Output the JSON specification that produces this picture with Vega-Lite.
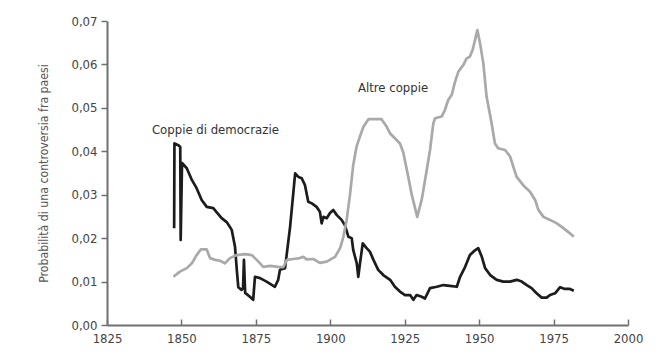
{
  "$schema": "https://vega.github.io/schema/vega-lite/v6.json",
  "width": 521,
  "height": 304,
  "autosize": {"type": "none"},
  "padding": {"left": 107, "top": 21, "right": 34, "bottom": 35},
  "background": "white",
  "config": {
    "view": {"stroke": null},
    "font": "DejaVu Sans Condensed",
    "axis": {
      "grid": false,
      "domainColor": "#707070",
      "domainWidth": 2,
      "tickColor": "#707070",
      "tickWidth": 1.5,
      "labelFont": "DejaVu Sans Condensed",
      "labelFontSize": 13,
      "labelColor": "#444444",
      "titleFont": "DejaVu Sans Condensed",
      "titleFontSize": 12.2,
      "titleFontWeight": "normal",
      "titleColor": "#555555"
    }
  },
  "datasets": {
    "serie": [
      {"serie": "Coppie di democrazie", "anno": 1847.55, "p": 0.0223},
      {"serie": "Coppie di democrazie", "anno": 1847.65, "p": 0.0418},
      {"serie": "Coppie di democrazie", "anno": 1849.0, "p": 0.0414},
      {"serie": "Coppie di democrazie", "anno": 1849.6, "p": 0.0410},
      {"serie": "Coppie di democrazie", "anno": 1849.75, "p": 0.0196},
      {"serie": "Coppie di democrazie", "anno": 1850.2, "p": 0.0373},
      {"serie": "Coppie di democrazie", "anno": 1851.8, "p": 0.0361},
      {"serie": "Coppie di democrazie", "anno": 1853.5, "p": 0.0334},
      {"serie": "Coppie di democrazie", "anno": 1855.1, "p": 0.0315},
      {"serie": "Coppie di democrazie", "anno": 1856.8, "p": 0.0288},
      {"serie": "Coppie di democrazie", "anno": 1858.5, "p": 0.0272},
      {"serie": "Coppie di democrazie", "anno": 1860.7, "p": 0.0269},
      {"serie": "Coppie di democrazie", "anno": 1861.8, "p": 0.0260},
      {"serie": "Coppie di democrazie", "anno": 1863.5, "p": 0.0246},
      {"serie": "Coppie di democrazie", "anno": 1865.2, "p": 0.0237},
      {"serie": "Coppie di democrazie", "anno": 1866.9, "p": 0.0219},
      {"serie": "Coppie di democrazie", "anno": 1868.0, "p": 0.0180},
      {"serie": "Coppie di democrazie", "anno": 1868.6, "p": 0.0127},
      {"serie": "Coppie di democrazie", "anno": 1869.1, "p": 0.0087},
      {"serie": "Coppie di democrazie", "anno": 1870.2, "p": 0.0081},
      {"serie": "Coppie di democrazie", "anno": 1870.7, "p": 0.0085},
      {"serie": "Coppie di democrazie", "anno": 1871.0, "p": 0.0150},
      {"serie": "Coppie di democrazie", "anno": 1871.4, "p": 0.0074},
      {"serie": "Coppie di democrazie", "anno": 1873.0, "p": 0.0065},
      {"serie": "Coppie di democrazie", "anno": 1874.1, "p": 0.0058},
      {"serie": "Coppie di democrazie", "anno": 1874.7, "p": 0.0111},
      {"serie": "Coppie di democrazie", "anno": 1876.4, "p": 0.0108},
      {"serie": "Coppie di democrazie", "anno": 1878.6, "p": 0.0100},
      {"serie": "Coppie di democrazie", "anno": 1881.4, "p": 0.0088},
      {"serie": "Coppie di democrazie", "anno": 1882.5, "p": 0.0104},
      {"serie": "Coppie di democrazie", "anno": 1883.1, "p": 0.0127},
      {"serie": "Coppie di democrazie", "anno": 1884.8, "p": 0.0131},
      {"serie": "Coppie di democrazie", "anno": 1886.5, "p": 0.0226},
      {"serie": "Coppie di democrazie", "anno": 1888.2, "p": 0.0349},
      {"serie": "Coppie di democrazie", "anno": 1889.3, "p": 0.0341},
      {"serie": "Coppie di democrazie", "anno": 1890.4, "p": 0.0338},
      {"serie": "Coppie di democrazie", "anno": 1891.5, "p": 0.0322},
      {"serie": "Coppie di democrazie", "anno": 1892.6, "p": 0.0284},
      {"serie": "Coppie di democrazie", "anno": 1893.8, "p": 0.0280},
      {"serie": "Coppie di democrazie", "anno": 1895.4, "p": 0.0272},
      {"serie": "Coppie di democrazie", "anno": 1896.5, "p": 0.0261},
      {"serie": "Coppie di democrazie", "anno": 1897.1, "p": 0.0234},
      {"serie": "Coppie di democrazie", "anno": 1897.7, "p": 0.0249},
      {"serie": "Coppie di democrazie", "anno": 1898.8, "p": 0.0246},
      {"serie": "Coppie di democrazie", "anno": 1899.9, "p": 0.0258},
      {"serie": "Coppie di democrazie", "anno": 1901.0, "p": 0.0265},
      {"serie": "Coppie di democrazie", "anno": 1902.2, "p": 0.0253},
      {"serie": "Coppie di democrazie", "anno": 1903.8, "p": 0.0242},
      {"serie": "Coppie di democrazie", "anno": 1904.9, "p": 0.0230},
      {"serie": "Coppie di democrazie", "anno": 1906.1, "p": 0.0203},
      {"serie": "Coppie di democrazie", "anno": 1907.2, "p": 0.0200},
      {"serie": "Coppie di democrazie", "anno": 1907.7, "p": 0.0173},
      {"serie": "Coppie di democrazie", "anno": 1908.9, "p": 0.0142},
      {"serie": "Coppie di democrazie", "anno": 1909.4, "p": 0.0111},
      {"serie": "Coppie di democrazie", "anno": 1910.0, "p": 0.0143},
      {"serie": "Coppie di democrazie", "anno": 1910.9, "p": 0.0188},
      {"serie": "Coppie di democrazie", "anno": 1912.2, "p": 0.0177},
      {"serie": "Coppie di democrazie", "anno": 1913.3, "p": 0.0169},
      {"serie": "Coppie di democrazie", "anno": 1914.5, "p": 0.0150},
      {"serie": "Coppie di democrazie", "anno": 1916.1, "p": 0.0127},
      {"serie": "Coppie di democrazie", "anno": 1917.8, "p": 0.0115},
      {"serie": "Coppie di democrazie", "anno": 1920.1, "p": 0.0104},
      {"serie": "Coppie di democrazie", "anno": 1921.7, "p": 0.0088},
      {"serie": "Coppie di democrazie", "anno": 1923.4, "p": 0.0077},
      {"serie": "Coppie di democrazie", "anno": 1925.1, "p": 0.0069},
      {"serie": "Coppie di democrazie", "anno": 1926.8, "p": 0.0069},
      {"serie": "Coppie di democrazie", "anno": 1927.9, "p": 0.0058},
      {"serie": "Coppie di democrazie", "anno": 1929.0, "p": 0.0069},
      {"serie": "Coppie di democrazie", "anno": 1930.7, "p": 0.0065},
      {"serie": "Coppie di democrazie", "anno": 1931.8, "p": 0.0061},
      {"serie": "Coppie di democrazie", "anno": 1933.5, "p": 0.0085},
      {"serie": "Coppie di democrazie", "anno": 1935.8, "p": 0.0088},
      {"serie": "Coppie di democrazie", "anno": 1938.0, "p": 0.0092},
      {"serie": "Coppie di democrazie", "anno": 1940.2, "p": 0.0090},
      {"serie": "Coppie di democrazie", "anno": 1942.5, "p": 0.0088},
      {"serie": "Coppie di democrazie", "anno": 1943.6, "p": 0.0111},
      {"serie": "Coppie di democrazie", "anno": 1945.3, "p": 0.0134},
      {"serie": "Coppie di democrazie", "anno": 1946.9, "p": 0.0161},
      {"serie": "Coppie di democrazie", "anno": 1948.6, "p": 0.0172},
      {"serie": "Coppie di democrazie", "anno": 1949.7, "p": 0.0177},
      {"serie": "Coppie di democrazie", "anno": 1950.9, "p": 0.0157},
      {"serie": "Coppie di democrazie", "anno": 1952.0, "p": 0.0131},
      {"serie": "Coppie di democrazie", "anno": 1953.7, "p": 0.0115},
      {"serie": "Coppie di democrazie", "anno": 1955.9, "p": 0.0104},
      {"serie": "Coppie di democrazie", "anno": 1958.1, "p": 0.0100},
      {"serie": "Coppie di democrazie", "anno": 1960.4, "p": 0.0100},
      {"serie": "Coppie di democrazie", "anno": 1962.6, "p": 0.0104},
      {"serie": "Coppie di democrazie", "anno": 1964.3, "p": 0.0100},
      {"serie": "Coppie di democrazie", "anno": 1966.0, "p": 0.0092},
      {"serie": "Coppie di democrazie", "anno": 1967.6, "p": 0.0085},
      {"serie": "Coppie di democrazie", "anno": 1969.3, "p": 0.0073},
      {"serie": "Coppie di democrazie", "anno": 1971.0, "p": 0.0063},
      {"serie": "Coppie di democrazie", "anno": 1972.7, "p": 0.0063},
      {"serie": "Coppie di democrazie", "anno": 1973.8, "p": 0.0069},
      {"serie": "Coppie di democrazie", "anno": 1975.5, "p": 0.0073},
      {"serie": "Coppie di democrazie", "anno": 1977.2, "p": 0.0087},
      {"serie": "Coppie di democrazie", "anno": 1978.8, "p": 0.0083},
      {"serie": "Coppie di democrazie", "anno": 1980.5, "p": 0.0083},
      {"serie": "Coppie di democrazie", "anno": 1981.8, "p": 0.0079},
      {"serie": "Altre coppie", "anno": 1847.3, "p": 0.0111},
      {"serie": "Altre coppie", "anno": 1849.5, "p": 0.0123},
      {"serie": "Altre coppie", "anno": 1851.8, "p": 0.0131},
      {"serie": "Altre coppie", "anno": 1853.5, "p": 0.0142},
      {"serie": "Altre coppie", "anno": 1855.1, "p": 0.0161},
      {"serie": "Altre coppie", "anno": 1856.5, "p": 0.0174},
      {"serie": "Altre coppie", "anno": 1858.5, "p": 0.0174},
      {"serie": "Altre coppie", "anno": 1859.6, "p": 0.0154},
      {"serie": "Altre coppie", "anno": 1861.3, "p": 0.0150},
      {"serie": "Altre coppie", "anno": 1863.0, "p": 0.0148},
      {"serie": "Altre coppie", "anno": 1864.6, "p": 0.0142},
      {"serie": "Altre coppie", "anno": 1866.3, "p": 0.0154},
      {"serie": "Altre coppie", "anno": 1868.6, "p": 0.0161},
      {"serie": "Altre coppie", "anno": 1871.4, "p": 0.0163},
      {"serie": "Altre coppie", "anno": 1873.6, "p": 0.0161},
      {"serie": "Altre coppie", "anno": 1875.3, "p": 0.0150},
      {"serie": "Altre coppie", "anno": 1877.5, "p": 0.0134},
      {"serie": "Altre coppie", "anno": 1879.8, "p": 0.0136},
      {"serie": "Altre coppie", "anno": 1882.5, "p": 0.0134},
      {"serie": "Altre coppie", "anno": 1884.2, "p": 0.0133},
      {"serie": "Altre coppie", "anno": 1885.4, "p": 0.0150},
      {"serie": "Altre coppie", "anno": 1887.6, "p": 0.0152},
      {"serie": "Altre coppie", "anno": 1889.8, "p": 0.0154},
      {"serie": "Altre coppie", "anno": 1890.9, "p": 0.0157},
      {"serie": "Altre coppie", "anno": 1892.1, "p": 0.0151},
      {"serie": "Altre coppie", "anno": 1894.3, "p": 0.0152},
      {"serie": "Altre coppie", "anno": 1896.5, "p": 0.0143},
      {"serie": "Altre coppie", "anno": 1898.8, "p": 0.0146},
      {"serie": "Altre coppie", "anno": 1901.6, "p": 0.0157},
      {"serie": "Altre coppie", "anno": 1903.3, "p": 0.0177},
      {"serie": "Altre coppie", "anno": 1904.4, "p": 0.0203},
      {"serie": "Altre coppie", "anno": 1905.5, "p": 0.0242},
      {"serie": "Altre coppie", "anno": 1906.6, "p": 0.0299},
      {"serie": "Altre coppie", "anno": 1907.7, "p": 0.0368},
      {"serie": "Altre coppie", "anno": 1908.8, "p": 0.0410},
      {"serie": "Altre coppie", "anno": 1910.0, "p": 0.0435},
      {"serie": "Altre coppie", "anno": 1911.1, "p": 0.0456},
      {"serie": "Altre coppie", "anno": 1912.8, "p": 0.0474},
      {"serie": "Altre coppie", "anno": 1917.2, "p": 0.0474},
      {"serie": "Altre coppie", "anno": 1918.9, "p": 0.0457},
      {"serie": "Altre coppie", "anno": 1920.1, "p": 0.0441},
      {"serie": "Altre coppie", "anno": 1921.7, "p": 0.0430},
      {"serie": "Altre coppie", "anno": 1923.4, "p": 0.0418},
      {"serie": "Altre coppie", "anno": 1924.5, "p": 0.0398},
      {"serie": "Altre coppie", "anno": 1926.2, "p": 0.0341},
      {"serie": "Altre coppie", "anno": 1927.4, "p": 0.0299},
      {"serie": "Altre coppie", "anno": 1929.2, "p": 0.0249},
      {"serie": "Altre coppie", "anno": 1930.7, "p": 0.0288},
      {"serie": "Altre coppie", "anno": 1932.4, "p": 0.0357},
      {"serie": "Altre coppie", "anno": 1933.5, "p": 0.0403},
      {"serie": "Altre coppie", "anno": 1934.6, "p": 0.0464},
      {"serie": "Altre coppie", "anno": 1935.2, "p": 0.0476},
      {"serie": "Altre coppie", "anno": 1937.4, "p": 0.0480},
      {"serie": "Altre coppie", "anno": 1938.5, "p": 0.0495},
      {"serie": "Altre coppie", "anno": 1939.6, "p": 0.0518},
      {"serie": "Altre coppie", "anno": 1940.8, "p": 0.0530},
      {"serie": "Altre coppie", "anno": 1941.9, "p": 0.0560},
      {"serie": "Altre coppie", "anno": 1943.0, "p": 0.0583},
      {"serie": "Altre coppie", "anno": 1944.7, "p": 0.0599},
      {"serie": "Altre coppie", "anno": 1945.8, "p": 0.0614},
      {"serie": "Altre coppie", "anno": 1946.9, "p": 0.0618},
      {"serie": "Altre coppie", "anno": 1947.8, "p": 0.0633},
      {"serie": "Altre coppie", "anno": 1949.4, "p": 0.0679},
      {"serie": "Altre coppie", "anno": 1950.3, "p": 0.0649},
      {"serie": "Altre coppie", "anno": 1951.4, "p": 0.0603},
      {"serie": "Altre coppie", "anno": 1952.5, "p": 0.0526},
      {"serie": "Altre coppie", "anno": 1954.2, "p": 0.0464},
      {"serie": "Altre coppie", "anno": 1955.3, "p": 0.0418},
      {"serie": "Altre coppie", "anno": 1956.4, "p": 0.0407},
      {"serie": "Altre coppie", "anno": 1958.7, "p": 0.0403},
      {"serie": "Altre coppie", "anno": 1960.4, "p": 0.0388},
      {"serie": "Altre coppie", "anno": 1961.5, "p": 0.0364},
      {"serie": "Altre coppie", "anno": 1962.6, "p": 0.0341},
      {"serie": "Altre coppie", "anno": 1964.8, "p": 0.0322},
      {"serie": "Altre coppie", "anno": 1967.1, "p": 0.0307},
      {"serie": "Altre coppie", "anno": 1968.8, "p": 0.0288},
      {"serie": "Altre coppie", "anno": 1969.9, "p": 0.0265},
      {"serie": "Altre coppie", "anno": 1971.6, "p": 0.0249},
      {"serie": "Altre coppie", "anno": 1973.8, "p": 0.0242},
      {"serie": "Altre coppie", "anno": 1976.1, "p": 0.0234},
      {"serie": "Altre coppie", "anno": 1978.3, "p": 0.0223},
      {"serie": "Altre coppie", "anno": 1980.5, "p": 0.0211},
      {"serie": "Altre coppie", "anno": 1981.8, "p": 0.0203}
    ],
    "etichette": [
      {"testo": "Coppie di democrazie", "anno": 1840.1, "p": 0.0449},
      {"testo": "Altre coppie", "anno": 1909.3, "p": 0.0546}
    ]
  },
  "layer": [
    {
      "data": {"name": "serie"},
      "mark": {"type": "line", "strokeWidth": 2.7, "strokeJoin": "round", "interpolate": "linear"},
      "encoding": {
        "x": {
          "field": "anno", "type": "quantitative",
          "scale": {"domain": [1825, 2000], "nice": false, "zero": false},
          "axis": {
            "title": null,
            "values": [1825, 1850, 1875, 1900, 1925, 1950, 1975, 2000],
            "format": "d",
            "tickSize": -6,
            "labelPadding": 13,
            "labelFlush": false
          }
        },
        "y": {
          "field": "p", "type": "quantitative",
          "scale": {"domain": [0, 0.07], "nice": false},
          "axis": {
            "title": "Probabilità di una controversia fra paesi",
            "values": [0, 0.01, 0.02, 0.03, 0.04, 0.05, 0.06, 0.07],
            "labelExpr": "replace(format(datum.value, '.2f'), '.', ',')",
            "tickSize": 6,
            "labelPadding": 4,
            "titlePadding": 20,
            "labelFlush": false
          }
        },
        "color": {
          "field": "serie", "type": "nominal",
          "scale": {"domain": ["Coppie di democrazie", "Altre coppie"], "range": ["#1c1c1c", "#a9a9a9"]},
          "legend": null
        }
      }
    },
    {
      "data": {"name": "etichette"},
      "mark": {"type": "text", "align": "left", "baseline": "middle", "font": "DejaVu Sans Condensed", "fontSize": 13, "color": "#333333"},
      "encoding": {
        "x": {"field": "anno", "type": "quantitative"},
        "y": {"field": "p", "type": "quantitative"},
        "text": {"field": "testo"}
      }
    }
  ]
}
